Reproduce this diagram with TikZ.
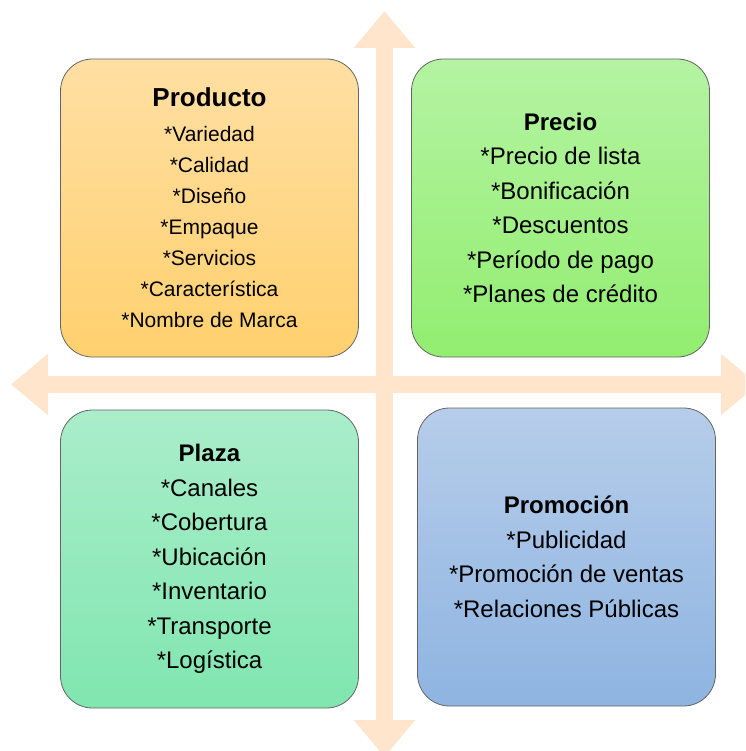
\documentclass[tikz,border=0pt]{standalone}
\usepackage{fontspec}
\setmainfont{Liberation Sans}
\usetikzlibrary{arrows.meta,positioning}
\definecolor{flecha}{RGB}{254,229,204}
\definecolor{borde}{RGB}{100,100,100}

\begin{document}
\begin{tikzpicture}[x=1pt,y=-1pt,node distance=351pt,
                    >={Triangle[width=59pt,length=37pt]}]
  \tikzstyle{cuadro}=[draw=borde,line width=0.8pt,rounded corners=32pt,
                      minimum width=298pt,minimum height=298pt,align=center,
                      font=\fontsize{24}{34.5}\selectfont]
  \tikzstyle{eje}=[<->,draw=flecha,line width=17pt]
  \clip (0,0) rectangle (745,751);

  % ejes
  \coordinate (arriba) at (384.5,11);
  \coordinate (abajo)  at (384.5,757);
  \coordinate (izq)    at (11,384.5);
  \coordinate (der)    at (758,384.5);
  \draw[eje] (arriba) -- (abajo);
  \draw[eje] (izq) -- (der);

  \node[cuadro, top color={rgb,255:red,255;green,223;blue,163},
        bottom color={rgb,255:red,255;green,208;blue,110},
        font=\fontsize{21}{31}\selectfont] (producto) at (209.5,208)
    {{\fontsize{26}{31}\selectfont\bfseries Producto}\\[4pt]
     *Variedad\\ *Calidad\\ *Diseño\\ *Empaque\\ *Servicios\\
     *Característica\\ *Nombre de Marca};
  \node[cuadro, top color={rgb,255:red,180;green,243;blue,162},
        bottom color={rgb,255:red,146;green,238;blue,112}]
        (precio) [right of=producto]
    {\textbf{Precio}\\ *Precio de lista\\ *Bonificación\\ *Descuentos\\
     *Período de pago\\ *Planes de crédito};
  \node[cuadro, top color={rgb,255:red,170;green,237;blue,202},
        bottom color={rgb,255:red,128;green,230;blue,176}]
        (plaza) [below of=producto]
    {\textbf{Plaza}\\ *Canales\\ *Cobertura\\ *Ubicación\\ *Inventario\\
     *Transporte\\ *Logística};
  \node[cuadro, top color={rgb,255:red,182;green,205;blue,234},
        bottom color={rgb,255:red,142;green,180;blue,225}]
        (promocion) [below of=precio, xshift=6pt, yshift=2pt]
    {\textbf{Promoción}\\ *Publicidad\\ *Promoción de ventas\\
     *Relaciones Públicas};
\end{tikzpicture}
\end{document}
